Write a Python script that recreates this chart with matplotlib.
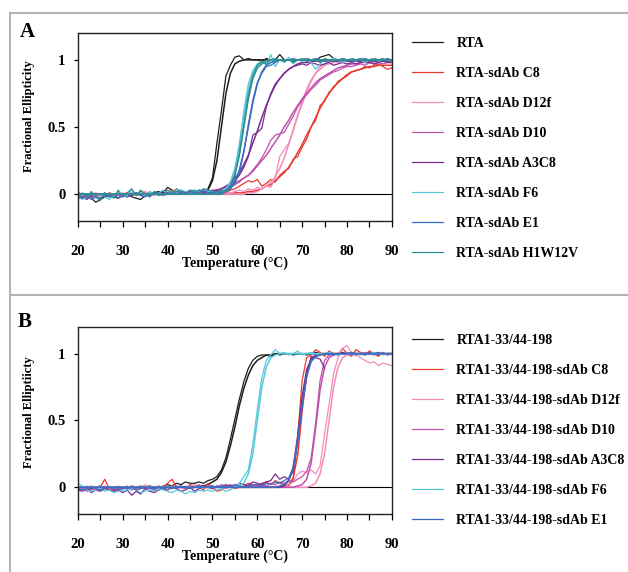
import matplotlib.pyplot as plt
from matplotlib.lines import Line2D
from matplotlib.ticker import MultipleLocator
import numpy as np

plt.rcParams['font.family'] = ['Liberation Serif', 'DejaVu Serif']
plt.rcParams['font.weight'] = 'bold'

temps = np.arange(20, 91)  # one reading per degree, 20..90 C

### panel A: RTA and RTA-sdAb complexes (fractional ellipticity x100)
labels_a = ["RTA", "RTA-sdAb C8", "RTA-sdAb D12f", "RTA-sdAb D10",
            "RTA-sdAb A3C8", "RTA-sdAb F6", "RTA-sdAb E1", "RTA-sdAb H1W12V"]
colors_a = ["#1e1e1e", "#e8392f", "#f48cbc", "#c052ae",
            "#7b2d8e", "#58c8dc", "#3d6cc4", "#2f8f8f"]

rta_a = [-2, -3, -1, -3, -6, -4, -2, -1, -2, -3,
         -1, 0, -2, -3, -4, -1, 0, 1, 2, 1,
         5, 3, 1, 2, 1, 2, 3, 1, 2, 4,
         12, 38, 62, 88, 96, 102, 103, 100, 101, 100,
         100, 99, 101, 100, 100, 104, 100, 100, 99, 100,
         100, 101, 100, 99, 102, 103, 104, 101, 100, 100,
         99, 101, 100, 100, 99, 100, 101, 100, 99, 100,
         100]
c8_a = [2, -1, 0, -2, -1, 0, -1, 1, 0, -1,
        0, 1, -1, 0, 2, 1, -1, 0, 1, 0,
        1, 3, 0, 1, 2, 0, 1, 2, 1, 2,
        1, 2, 0, 1, 3, 4, 6, 8, 10, 9,
        11, 6, 8, 11, 9, 14, 17, 19, 26, 28,
        35, 41, 50, 55, 66, 69, 76, 79, 84, 86,
        88, 91, 92, 93, 95, 94, 96, 97, 95, 93,
        94]
d12f_a = [0, -1, -2, 0, 1, -1, 0, -2, -1, 0,
          1, 0, -1, 1, 0, 2, 0, -1, 1, 0,
          1, 0, 2, 1, 0, 1, 2, 1, 3, 1,
          2, 1, 3, 2, 1, 2, 3, 2, 4, 3,
          5, 4, 6, 5, 12, 28, 33, 38, 47, 58,
          67, 76, 84, 90, 95, 97, 99, 100, 98, 99,
          100, 99, 100, 101, 99, 100, 98, 99, 100, 99,
          99]
d10_a = [-1, -2, 0, -3, -2, -1, 1, -2, 0, -1,
         -2, 0, 1, -1, 0, -1, 2, 0, 1, -1,
         0, 2, 1, 0, 1, 3, 1, 2, 2, 3,
         1, 2, 3, 4, 5, 7, 9, 12, 14, 18,
         22, 27, 33, 40, 44, 45, 46, 52, 58, 65,
         70, 74, 78, 81, 85, 87, 89, 91, 92, 94,
         95, 95, 96, 97, 96, 98, 97, 98, 97, 98,
         98]
a3c8_a = [-3, -2, -4, -1, -2, -3, 0, -2, -1, -3,
          0, -2, -1, 1, -1, 0, -2, 1, 0, 2,
          1, 0, 2, 3, 1, 2, 1, 3, 2, 2,
          1, 2, 2, 4, 7, 10, 14, 20, 28, 44,
          46, 49, 65, 75, 82, 86, 90, 93, 95, 96,
          97, 96, 98, 97, 96, 97, 98, 96, 97, 98,
          97, 98, 97, 98, 99, 98, 97, 98, 99, 98,
          98]
f6_a = [-1, -4, -2, 1, -3, 0, -2, -4, -1, 2,
        -2, 0, 3, -1, 1, -2, 2, 0, 1, 3,
        0, 2, 1, 3, 2, 0, 3, 2, 4, 2,
        2, 1, 3, 4, 8, 18, 35, 62, 82, 92,
        97, 99, 96, 104, 95, 100, 98, 102, 97, 100,
        99, 101, 98, 93, 97, 100, 99, 101, 100, 98,
        100, 101, 99, 100, 98, 100, 101, 99, 100, 100,
        99]
e1_a = [-2, -3, -1, -4, -2, -3, -1, -2, 0, -3,
        -1, -2, 0, 1, -1, -2, 0, 1, -1, 0,
        1, 0, 2, 1, 0, 2, 1, 3, 2, 1,
        1, 2, 1, 2, 4, 8, 16, 31, 52, 70,
        83, 90, 95, 96, 98, 100, 99, 100, 101, 100,
        100, 99, 100, 101, 100, 99, 100, 100, 99, 101,
        100, 100, 99, 100, 101, 100, 99, 100, 100, 101,
        100]
h1_a = [-4, 1, -3, 2, -2, -5, 1, -1, -3, 3,
        -2, 1, 4, -1, 3, 0, -2, 2, 1, -1,
        3, 1, 4, 2, 0, 3, 2, 1, 4, 3,
        2, 1, 3, 2, 6, 15, 30, 52, 74, 88,
        96, 99, 97, 100, 101, 100, 99, 100, 98, 100,
        101, 99, 100, 100, 98, 101, 100, 99, 100, 101,
        100, 99, 100, 101, 100, 99, 100, 100, 101, 99,
        100]

# fitted curves, panel A
rta_a_fit = [0, 0, 0, 0, 0, 0, 0, 0, 0, 0,
             0, 0, 0, 0, 0, 0, 0, 0, 0, 0,
             0, 0, 0, 0, 0, 0, 0, 0, 1, 3,
             10, 25, 50, 75, 90, 97, 99, 100, 100, 100,
             100, 100, 100, 100, 100, 100, 100, 100, 100, 100,
             100, 100, 100, 100, 100, 100, 100, 100, 100, 100,
             100, 100, 100, 100, 100, 100, 100, 100, 100, 100,
             100]
c8_a_fit = [0, 0, 0, 0, 0, 0, 0, 0, 0, 0,
            0, 0, 0, 0, 0, 0, 0, 0, 0, 0,
            0, 0, 0, 0, 0, 0, 0, 0, 0, 0,
            0, 0, 0, 0, 0, 1, 1, 1, 2, 2,
            3, 4, 6, 7, 10, 13, 16, 20, 25, 31,
            37, 44, 50, 57, 64, 70, 75, 80, 83, 86,
            89, 91, 92, 93, 94, 95, 95, 96, 96, 96,
            96]
d12f_a_fit = [0, 0, 0, 0, 0, 0, 0, 0, 0, 0,
              0, 0, 0, 0, 0, 0, 0, 0, 0, 0,
              0, 0, 0, 0, 0, 0, 0, 0, 0, 0,
              0, 0, 0, 0, 0, 0, 0, 0, 1, 1,
              2, 4, 6, 9, 13, 19, 27, 37, 48, 59,
              69, 78, 85, 90, 93, 96, 97, 98, 99, 99,
              99, 99, 99, 99, 99, 99, 99, 99, 99, 99,
              99]
d10_a_fit = [0, 0, 0, 0, 0, 0, 0, 0, 0, 0,
             0, 0, 0, 0, 0, 0, 0, 0, 0, 0,
             0, 0, 0, 0, 0, 1, 1, 1, 2, 2,
             3, 3, 4, 5, 6, 8, 10, 12, 14, 17,
             21, 25, 29, 34, 39, 44, 50, 55, 61, 66,
             71, 75, 79, 83, 86, 88, 90, 92, 94, 95,
             96, 97, 97, 98, 98, 98, 99, 99, 99, 99,
             99]
a3c8_a_fit = [0, 0, 0, 0, 0, 0, 0, 0, 0, 0,
              0, 0, 0, 0, 0, 0, 0, 0, 0, 0,
              0, 0, 0, 0, 0, 0, 0, 0, 1, 1,
              2, 3, 4, 6, 8, 12, 16, 22, 29, 38,
              47, 57, 66, 74, 81, 86, 90, 93, 95, 97,
              98, 98, 99, 99, 99, 99, 99, 99, 99, 99,
              99, 99, 99, 99, 99, 99, 99, 99, 99, 99,
              99]
f6_a_fit = [0, 0, 0, 0, 0, 0, 0, 0, 0, 0,
            0, 0, 0, 0, 0, 0, 0, 0, 0, 0,
            0, 0, 0, 0, 0, 0, 0, 0, 0, 0,
            0, 0, 1, 4, 9, 19, 37, 59, 78, 90,
            96, 98, 99, 100, 100, 100, 100, 100, 100, 100,
            100, 100, 100, 100, 100, 100, 100, 100, 100, 100,
            100, 100, 100, 100, 100, 100, 100, 100, 100, 100,
            100]
e1_a_fit = [0, 0, 0, 0, 0, 0, 0, 0, 0, 0,
            0, 0, 0, 0, 0, 0, 0, 0, 0, 0,
            0, 0, 0, 0, 0, 0, 0, 0, 0, 0,
            0, 0, 0, 2, 4, 9, 18, 32, 50, 68,
            82, 91, 96, 98, 99, 100, 100, 100, 100, 100,
            100, 100, 100, 100, 100, 100, 100, 100, 100, 100,
            100, 100, 100, 100, 100, 100, 100, 100, 100, 100,
            100]
h1_a_fit = [0, 0, 0, 0, 0, 0, 0, 0, 0, 0,
            0, 0, 0, 0, 0, 0, 0, 0, 0, 0,
            0, 0, 0, 0, 0, 0, 0, 0, 0, 0,
            0, 0, 0, 3, 6, 14, 29, 50, 71, 86,
            94, 97, 99, 100, 100, 100, 100, 100, 100, 100,
            100, 100, 100, 100, 100, 100, 100, 100, 100, 100,
            100, 100, 100, 100, 100, 100, 100, 100, 100, 100,
            100]

### panel B: truncated RTA1-33/44-198 and its sdAb complexes
labels_b = ["RTA1-33/44-198", "RTA1-33/44-198-sdAb C8", "RTA1-33/44-198-sdAb D12f",
            "RTA1-33/44-198-sdAb D10", "RTA1-33/44-198-sdAb A3C8",
            "RTA1-33/44-198-sdAb F6", "RTA1-33/44-198-sdAb E1"]
colors_b = colors_a[:7]

rta_b = [-1, 0, -2, -1, 0, 1, -1, 0, -2, -1,
         0, -1, 1, 0, -1, 0, 1, 0, -1, 1,
         2, 1, 3, 2, 4, 3, 3, 4, 3, 5,
         6, 8, 13, 22, 36, 51, 66, 79, 89, 95,
         98, 99, 99, 98, 100, 99, 100, 100, 99, 100,
         100, 99, 100, 101, 100, 100, 99, 100, 100, 101,
         100, 100, 99, 100, 100, 101, 100, 99, 100, 100,
         100]
c8_b = [-1, 0, -2, 1, -1, 0, 6, -1, -3, 0,
        -1, 1, -2, 0, 1, -1, 0, -2, 1, 0,
        3, 6, 0, 1, -1, 2, 1, 0, -2, 3,
        0, -3, -2, 0, 2, -1, 0, 1, 3, 2,
        1, 3, 4, 2, 5, 3, 2, 1, 6, 38,
        80, 97, 99, 103, 101, 98, 102, 100, 99, 104,
        100, 98, 103, 101, 99, 102, 100, 98, 101, 99,
        100]
d12f_b = [0, -1, 1, 0, -2, 0, 1, -1, 0, 1,
          -1, 0, 1, -1, 0, 2, 0, -1, 0, 1,
          0, 1, -1, 0, 1, 0, 2, 1, 0, 1,
          0, 1, 0, -1, 0, 1, 0, 1, 0, 1,
          0, 1, 1, 0, 1, 0, 1, 2, 4, 10,
          12, 11, 13, 10, 16, 40, 62, 85, 97, 104,
          106, 101, 99, 97, 95, 93, 94, 91, 93, 92,
          91]
d10_b = [-2, -1, -3, -2, -1, -2, 0, -1, -2, -1,
         -1, 0, -2, -1, 1, -1, 0, -2, 0, -1,
         0, -1, 1, 0, -1, 1, 0, 2, 0, 1,
         1, 0, 2, 1, 0, 2, 1, 0, 2, 1,
         1, 2, 1, 3, 2, 4, 3, 5, 4, 6,
         8, 12, 22, 48, 80, 95, 99, 100, 99, 100,
         101, 100, 99, 100, 101, 100, 99, 100, 100, 99,
         100]
a3c8_b = [-2, -3, -1, -4, -2, -3, -1, -2, -3, -2,
          -4, -2, -6, -3, -5, -1, -3, -4, -2, -1,
          -2, 0, -1, -3, -2, 0, -3, -1, 1, 0,
          -1, 1, 0, 2, 1, 0, 3, 2, 1, 4,
          3, 2, 4, 5, 10, 6, 8, 6, 12, 35,
          62, 82, 98, 97, 96, 89]  # run stops at 75 C
f6_b = [3, 1, -2, -3, -2, -1, -3, -2, -4, -3,
        -2, -3, -1, -2, -4, -3, -2, -3, -1, -2,
        -3, -4, -2, -3, -5, -3, -4, -2, -3, -2,
        -3, -2, -1, -3, -2, 0, 3, 8, 13, 32,
        58, 82, 95, 99, 103, 100, 101, 99, 100, 102,
        99, 100, 101, 100, 99, 100, 101, 100, 99, 100,
        100, 101, 100, 99, 100, 100, 101, 100, 99, 100,
        100]
e1_b = [-1, -2, -1, 0, -1, -2, -1, 0, -1, -2,
        -1, -1, 0, -2, -1, 0, -1, -1, 0, -1,
        0, -1, 0, 1, 0, -1, 0, 1, 0, 0,
        1, 0, 1, 0, 1, 2, 1, 0, 1, 2,
        2, 1, 3, 2, 4, 3, 5, 7, 15, 35,
        62, 84, 95, 98, 99, 100, 100, 99, 100, 100,
        100, 101, 100, 100, 99, 100, 100, 101, 100, 100,
        100]

# fitted curves, panel B
rta_b_fit = [0, 0, 0, 0, 0, 0, 0, 0, 0, 0,
             0, 0, 0, 0, 0, 0, 0, 0, 0, 0,
             0, 0, 0, 0, 0, 0, 0, 1, 1, 2,
             4, 6, 11, 19, 31, 45, 61, 74, 84, 91,
             95, 97, 99, 99, 100, 100, 100, 100, 100, 100,
             100, 100, 100, 100, 100, 100, 100, 100, 100, 100,
             100, 100, 100, 100, 100, 100, 100, 100, 100, 100,
             100]
c8_b_fit = [0, 0, 0, 0, 0, 0, 0, 0, 0, 0,
            0, 0, 0, 0, 0, 0, 0, 0, 0, 0,
            0, 0, 0, 0, 0, 0, 0, 0, 0, 0,
            0, 0, 0, 0, 0, 0, 0, 0, 0, 0,
            0, 0, 0, 0, 0, 0, 0, 2, 7, 24,
            57, 85, 96, 99, 100, 100, 100, 100, 100, 100,
            100, 100, 100, 100, 100, 100, 100, 100, 100, 100,
            100]
d12f_b_fit = [0, 0, 0, 0, 0, 0, 0, 0, 0, 0,
              0, 0, 0, 0, 0, 0, 0, 0, 0, 0,
              0, 0, 0, 0, 0, 0, 0, 0, 0, 0,
              0, 0, 0, 0, 0, 0, 0, 0, 0, 0,
              0, 0, 0, 0, 0, 0, 0, 0, 0, 0,
              0, 0, 1, 3, 10, 25, 50, 75, 90, 97,
              99, 100, 100, 100, 100, 100, 100, 100, 100, 100,
              100]
d10_b_fit = [0, 0, 0, 0, 0, 0, 0, 0, 0, 0,
             0, 0, 0, 0, 0, 0, 0, 0, 0, 0,
             0, 0, 0, 0, 0, 0, 0, 0, 0, 0,
             0, 0, 0, 0, 0, 0, 0, 0, 0, 0,
             0, 0, 0, 0, 0, 0, 0, 0, 0, 1,
             2, 6, 18, 44, 73, 90, 97, 99, 100, 100,
             100, 100, 100, 100, 100, 100, 100, 100, 100, 100,
             100]
a3c8_b_fit = [0, 0, 0, 0, 0, 0, 0, 0, 0, 0,
              0, 0, 0, 0, 0, 0, 0, 0, 0, 0,
              0, 0, 0, 0, 0, 0, 0, 0, 0, 0,
              0, 0, 0, 0, 0, 0, 0, 0, 0, 0,
              0, 0, 0, 0, 0, 0, 1, 5, 15, 38,
              68, 88, 96, 99, 100, 100, 100, 100, 100, 100,
              100, 100, 100, 100, 100, 100, 100, 100, 100, 100,
              100]
f6_b_fit = [0, 0, 0, 0, 0, 0, 0, 0, 0, 0,
            0, 0, 0, 0, 0, 0, 0, 0, 0, 0,
            0, 0, 0, 0, 0, 0, 0, 0, 0, 0,
            0, 0, 0, 0, 0, 0, 1, 3, 10, 25,
            50, 75, 90, 97, 99, 100, 100, 100, 100, 100,
            100, 100, 100, 100, 100, 100, 100, 100, 100, 100,
            100, 100, 100, 100, 100, 100, 100, 100, 100, 100,
            100]
e1_b_fit = [0, 0, 0, 0, 0, 0, 0, 0, 0, 0,
            0, 0, 0, 0, 0, 0, 0, 0, 0, 0,
            0, 0, 0, 0, 0, 0, 0, 0, 0, 0,
            0, 0, 0, 0, 0, 0, 0, 0, 0, 0,
            0, 0, 0, 0, 0, 1, 2, 5, 14, 34,
            61, 83, 94, 98, 99, 100, 100, 100, 100, 100,
            100, 100, 100, 100, 100, 100, 100, 100, 100, 100,
            100]

data_a = [rta_a, c8_a, d12f_a, d10_a, a3c8_a, f6_a, e1_a, h1_a]
fits_a = [rta_a_fit, c8_a_fit, d12f_a_fit, d10_a_fit, a3c8_a_fit, f6_a_fit, e1_a_fit, h1_a_fit]
data_b = [rta_b, c8_b, d12f_b, d10_b, a3c8_b, f6_b, e1_b]
fits_b = [rta_b_fit, c8_b_fit, d12f_b_fit, d10_b_fit, a3c8_b_fit, f6_b_fit, e1_b_fit]

GRAY = "#b4b4b4"


def draw_panel(ax, datas, fits, colors):
    handles = []
    for data, fit, color in zip(datas, fits, colors):
        ax.plot(temps[:len(fit)], np.array(fit) / 100, color=color, lw=1.1)
        h, = ax.plot(temps[:len(data)], np.array(data) / 100, color=color, lw=0.9)
        handles.append(h)
    ax.axhline(0, color="black", lw=0.8, zorder=0)
    ax.set_xlim(20, 90)
    ax.set_ylim(-0.2, 1.2)
    ax.xaxis.set_major_locator(MultipleLocator(10))
    ax.xaxis.set_minor_locator(MultipleLocator(5))
    ax.set_yticks([0, 0.5, 1])
    ax.set_yticklabels(["0", "0.5", "1"])
    ax.tick_params(axis="x", which="both", direction="out", length=4, width=0.9,
                   labelsize=10.5, pad=13)
    ax.tick_params(axis="y", direction="out", length=3, width=0.9, labelsize=10.5, pad=6)
    for s in ax.spines.values():
        s.set_linewidth(1.0)
        s.set_color("#222222")
    ax.set_xlabel("Temperature (\u00b0C)", fontsize=10, fontweight="bold")
    ax.xaxis.set_label_coords(0.5, -0.19)
    return handles


fig = plt.figure(figsize=(6.28, 5.72), dpi=100)
ax_a = fig.add_axes([0.124, 0.6136, 0.5, 0.3287])
ax_b = fig.add_axes([0.124, 0.1014, 0.5, 0.327])

h_a = draw_panel(ax_a, data_a, fits_a, colors_a)
h_b = draw_panel(ax_b, data_b, fits_b, colors_b)

ax_a.set_ylabel("Fractional Ellipticity", fontsize=9, fontweight="bold")
ax_a.yaxis.set_label_coords(-0.137, 0.556)
ax_b.set_ylabel("Fractional Elliptiicty", fontsize=9, fontweight="bold")
ax_b.yaxis.set_label_coords(-0.137, 0.545)

leg_kw = dict(loc="upper left", frameon=False, fontsize=10, handlelength=2.2,
              handletextpad=1.0, labelspacing=1.22, borderpad=0, borderaxespad=0,
              bbox_transform=fig.transFigure)
fig.legend(h_a, labels_a, bbox_to_anchor=(412 / 628, 1 - 37 / 572), **leg_kw)
fig.legend(h_b, labels_b, bbox_to_anchor=(412 / 628, 1 - 334 / 572), **leg_kw)

# panel letters
fig.text(20 / 628, 1 - 37 / 572, "A", fontsize=15, fontweight="bold", va="baseline")
fig.text(18 / 628, 1 - 327 / 572, "B", fontsize=15, fontweight="bold", va="baseline")

# grey frame lines around the panels
x0 = 10 / 628
fig.add_artist(Line2D([x0, 1], [1 - 13 / 572] * 2, color=GRAY, lw=1.5))
fig.add_artist(Line2D([x0, 1], [1 - 295 / 572] * 2, color=GRAY, lw=1.5))
fig.add_artist(Line2D([x0, x0], [0, 1 - 13 / 572], color=GRAY, lw=1.5))

plt.savefig("out.png", dpi=100)
